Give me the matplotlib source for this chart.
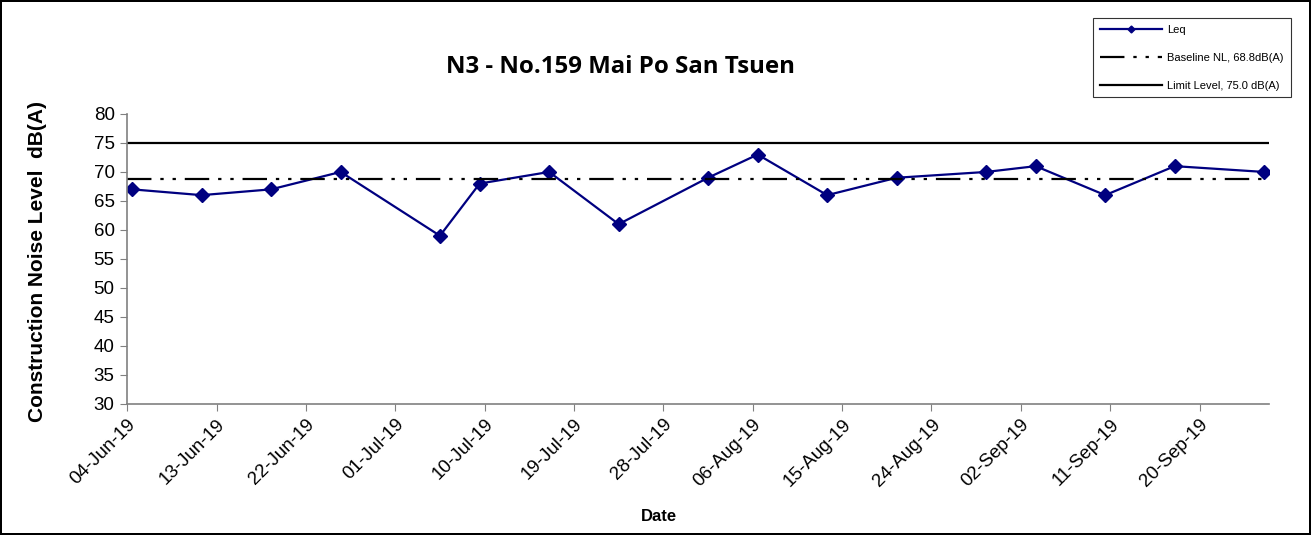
import pandas as pd
import matplotlib
matplotlib.use("Agg")
import matplotlib.pyplot as plt
import matplotlib.dates as mdates

plt.rcParams['font.family'] = ['Liberation Sans', 'DejaVu Sans']

# Monitoring dates and measured Leq values
dates = ["2019-06-04", "2019-06-11", "2019-06-18", "2019-06-25", "2019-07-05",
         "2019-07-09", "2019-07-16", "2019-07-23", "2019-08-01", "2019-08-06",
         "2019-08-13", "2019-08-20", "2019-08-29", "2019-09-03", "2019-09-10",
         "2019-09-17", "2019-09-26"]
leq = [67, 66, 67, 70, 59, 68, 70, 61, 69, 73, 66, 69, 70, 71, 66, 71, 70]

baseline = 68.8
limit = 75.0

title = "N3 - No.159 Mai Po San Tsuen"
x_start = "2019-06-04"
x_end = "2019-09-27"
tick_step_days = 9

# Excel places each date in the middle of its day slot
x = pd.to_datetime(dates) + pd.Timedelta(hours=12)

fig = plt.figure(figsize=(13.11, 5.35), dpi=100)
fig.patch.set_edgecolor('black')
fig.patch.set_linewidth(1.5)
ax = fig.add_axes([0.097, 0.245, 0.871, 0.542])

ax.plot(x, leq, color='#000080', lw=1.6, marker='D', markersize=7,
        label='Leq')
ax.axhline(baseline, color='black', lw=1.6,
           dashes=(11, 4, 1.5, 4, 1.5, 4),
           label=f'Baseline NL, {baseline}dB(A)')
ax.axhline(limit, color='black', lw=1.6,
           label=f'Limit Level, {limit} dB(A)')

ax.set_ylim(30, 80)
ax.set_yticks(range(30, 81, 5))
ax.set_xlim(pd.Timestamp(x_start), pd.Timestamp(x_end))
ticks = pd.date_range(x_start, x_end, freq=f'{tick_step_days}D')
ax.set_xticks(ticks)
ax.xaxis.set_major_formatter(mdates.DateFormatter('%d-%b-%y'))

for side in ['top', 'right']:
    ax.spines[side].set_visible(False)
for side in ['left', 'bottom']:
    ax.spines[side].set_color('#808080')
    ax.spines[side].set_linewidth(1.2)
ax.tick_params(axis='both', direction='out', length=5, color='#808080',
               labelsize=13.5)
ax.tick_params(axis='y', pad=4)
plt.setp(ax.get_xticklabels(), rotation=45, ha='right', rotation_mode='anchor')

fig.text(0.473, 0.874, title, ha='center', va='center', fontsize=17.3,
         fontweight='bold', family=['Open Sans', 'DejaVu Sans'])
fig.text(0.503, 0.034, 'Date', ha='center', va='center', fontsize=12,
         fontweight='bold')
ax.set_ylabel('Construction Noise Level  dB(A)', fontsize=15,
              fontweight='bold')
ax.yaxis.set_label_coords(-0.070, 0.49)

leg = fig.legend(loc='upper right', bbox_to_anchor=(0.987, 0.972),
                 fontsize=8, frameon=True, fancybox=False, handlelength=5.6,
                 labelspacing=1.6, borderpad=0.6, markerscale=0.5,
                 handletextpad=0.5, borderaxespad=0.3)
leg.get_frame().set_edgecolor('black')
leg.get_frame().set_linewidth(0.8)

fig.savefig('out.png', dpi=100)
